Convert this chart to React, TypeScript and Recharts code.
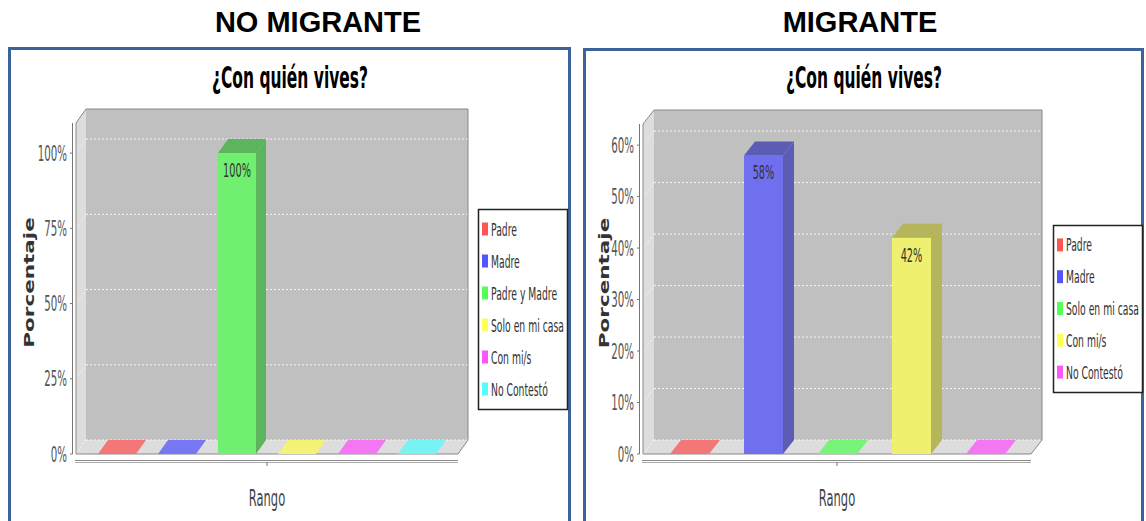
import React from "react";
import { BarChart, Bar, XAxis, YAxis, LabelList } from "recharts";

// Data
const axisCategory = "Rango";

const noMigranteSeries = ["Padre", "Madre", "Padre y Madre", "Solo en mi casa", "Con mi/s", "No Contestó"];
const noMigranteValues = [0, 0, 100, 0, 0, 0];
const noMigranteTicks = [0, 25, 50, 75, 100];

const migranteSeries = ["Padre", "Madre", "Solo en mi casa", "Con mi/s", "No Contestó"];
const migranteValues = [0, 58, 0, 42, 0];
const migranteTicks = [0, 10, 20, 30, 40, 50, 60];

// default jfreechart-like series paints
const legendColors = ["#ff5555", "#5555ff", "#55ff55", "#ffff55", "#ff55ff", "#55ffff"];
const frontColors = ["#ef7070", "#7070ef", "#70ef70", "#efef70", "#ef70ef", "#70efef"];
const sideColors = ["#b55c5c", "#5c5cb5", "#5cb55c", "#b5b55c", "#b55cb5", "#5cb5b5"];
const flatColors = ["#f37777", "#7777f3", "#77f377", "#f3f377", "#f377f3", "#77f3f3"];

const H = 521;
const SX = 0.5; // the source picture is squeezed horizontally
const FONT = "'DejaVu Sans', Verdana, sans-serif";

type PanelCfg = {
  title: string;
  series: string[];
  values: number[];
  ticks: number[];
  max: number;
  left: number;
  width: number;
  x0: number;
  x1: number;
  top: number;
  bottom: number;
  dx: number;
  dy: number;
  barSize: number;
  barGap: number;
  titleX: number;
  yLabelX: number;
  legend: { x: number; y: number; w: number; h: number };
};

const panels: PanelCfg[] = [
  {
    title: "¿Con quién vives?",
    series: noMigranteSeries,
    values: noMigranteValues,
    ticks: noMigranteTicks,
    max: 110,
    left: 0,
    width: 575,
    x0: 76,
    x1: 458,
    top: 123,
    bottom: 454,
    dx: 10,
    dy: 14,
    barSize: 38,
    barGap: 22,
    titleX: 290,
    yLabelX: 29,
    legend: { x: 478, y: 209, w: 89, h: 200 },
  },
  {
    title: "¿Con quién vives?",
    series: migranteSeries,
    values: migranteValues,
    ticks: migranteTicks,
    max: 64.1,
    left: 580,
    width: 566,
    x0: 63,
    x1: 451,
    top: 124,
    bottom: 454,
    dx: 11,
    dy: 14,
    barSize: 39,
    barGap: 35,
    titleX: 284,
    yLabelX: 23.5,
    legend: { x: 473, y: 225, w: 89, h: 167 },
  },
];

function Squeezed({ x, y, anchor, size, fill, weight, children }: any) {
  return (
    <g transform={`translate(${x},${y})`}>
      <text
        transform={`scale(${SX},1)`}
        textAnchor={anchor}
        fontSize={size}
        fill={fill}
        fontWeight={weight || "normal"}
        fontFamily={FONT}
      >
        {children}
      </text>
    </g>
  );
}

function Bar3D(props: any) {
  const { x, y, width, height, idx, dx, dy } = props;
  if (x == null || y == null) return null;
  const top = `${x},${y} ${x + dx},${y - dy} ${x + width + dx},${y - dy} ${x + width},${y}`;
  if (!height || height < 0.5) {
    return <polygon points={top} fill={flatColors[idx]} />;
  }
  const side = `${x + width},${y} ${x + width + dx},${y - dy} ${x + width + dx},${y + height - dy} ${x + width},${y + height}`;
  return (
    <g>
      <rect x={x} y={y} width={width} height={height} fill={frontColors[idx]} />
      <polygon points={side} fill={sideColors[idx]} />
      <polygon points={top} fill={sideColors[idx]} />
    </g>
  );
}

function ValueLabel(props: any) {
  const { x, y, width, value } = props;
  if (!value) return null;
  return (
    <Squeezed x={x + width / 2} y={y + 24} anchor="middle" size={19.5} fill="#333">
      {`${value}%`}
    </Squeezed>
  );
}

function YTick(props: any) {
  const { x, y, payload } = props;
  return (
    <g>
      <line x1={x - 6} x2={x - 3.5} y1={y} y2={y} stroke="#777" />
      <Squeezed x={x - 9} y={y + 7.5} anchor="end" size={20.5} fill="#555">
        {`${payload.value}%`}
      </Squeezed>
    </g>
  );
}

function XTick(props: any) {
  const { x, y } = props;
  return <line x1={x} x2={x} y1={y + 8} y2={y + 12} stroke="#777" />;
}

function XTitle(props: any) {
  const vb = props.viewBox || {};
  return (
    <Squeezed x={vb.x + vb.width / 2} y={vb.y + 52} anchor="middle" size={23} fill="#444">
      {axisCategory}
    </Squeezed>
  );
}

function YTitle(props: any) {
  const vb = props.viewBox || {};
  const cx = vb.x + props.lx;
  const cy = vb.y + vb.height / 2 - 6;
  return (
    <g transform={`translate(${cx},${cy}) scale(0.65,1) rotate(-90)`}>
      <text
        textAnchor="middle"
        dy="0.36em"
        fontSize={21.5}
        fontWeight="bold"
        fill="#333"
        fontFamily={FONT}
      >
        Porcentaje
      </text>
    </g>
  );
}

function Walls({ p }: { p: PanelCfg }) {
  const { x0, x1, top, bottom, dx, dy, ticks, max } = p;
  const yOf = (v: number) => bottom - (v / max) * (bottom - top);
  return (
    <g>
      <rect x={x0 + dx} y={top - dy} width={x1 - x0} height={bottom - top} fill="#c0c0c0" />
      <polygon
        points={`${x0},${top} ${x0 + dx},${top - dy} ${x0 + dx},${bottom - dy} ${x0},${bottom}`}
        fill="#dddddd"
      />
      <polygon
        points={`${x0},${bottom} ${x0 + dx},${bottom - dy} ${x1 + dx},${bottom - dy} ${x1},${bottom}`}
        fill="#dddddd"
      />
      {ticks.map((t) => (
        <g key={t}>
          <line
            x1={x0 + dx}
            x2={x1 + dx}
            y1={yOf(t) - dy}
            y2={yOf(t) - dy}
            stroke="#ffffff"
            strokeDasharray="2 2"
            strokeOpacity={0.85}
          />
          <line
            x1={x0}
            x2={x0 + dx}
            y1={yOf(t)}
            y2={yOf(t) - dy}
            stroke="#ffffff"
            strokeDasharray="2 2"
            strokeOpacity={0.6}
          />
        </g>
      ))}
      <polygon
        points={`${x0},${bottom} ${x0},${top} ${x0 + dx},${top - dy} ${x1 + dx},${top - dy} ${x1 + dx},${bottom - dy} ${x1},${bottom}`}
        fill="none"
        stroke="#888"
      />
      <line x1={x0 - 3.5} x2={x0 - 3.5} y1={top} y2={bottom} stroke="#777" />
      <line x1={x0 - 1} x2={x1} y1={bottom + 6.5} y2={bottom + 6.5} stroke="#888" />
      <line x1={x0 - 1} x2={x1} y1={bottom + 8.5} y2={bottom + 8.5} stroke="#aaa" />
    </g>
  );
}

function LegendBox({ p }: { p: PanelCfg }) {
  const { x, y, w, h } = p.legend;
  const rowH = (h - 8) / p.series.length;
  return (
    <g>
      <rect x={x + 0.5} y={y + 0.5} width={w} height={h} fill="#fff" stroke="#222" strokeWidth={1.5} />
      {p.series.map((s, i) => {
        const cy = y + 4 + rowH * (i + 0.5);
        return (
          <g key={s}>
            <rect x={x + 4} y={cy - 6.5} width={6} height={13} fill={legendColors[i]} />
            <Squeezed x={x + 13} y={cy + 6.5} anchor="start" size={18.5} fill="#333">
              {s}
            </Squeezed>
          </g>
        );
      })}
    </g>
  );
}

function Panel3D({ p }: { p: PanelCfg }) {
  const row: Record<string, string | number> = { name: axisCategory };
  p.series.forEach((_, i) => {
    row["s" + i] = p.values[i];
  });

  return (
    <div style={{ position: "absolute", left: p.left, top: 0, width: p.width, height: H }}>
      <svg width={p.width} height={H} style={{ position: "absolute", left: 0, top: 0 }}>
        <Walls p={p} />
        <g transform={`translate(${p.titleX},88)`}>
          <text
            transform={`scale(${SX},1)`}
            textAnchor="middle"
            fontSize={31}
            fontWeight="bold"
            fill="#000"
            fontFamily={FONT}
          >
            {p.title}
          </text>
        </g>
        <LegendBox p={p} />
      </svg>
      <div style={{ position: "absolute", left: 0, top: 0 }}>
        <BarChart
          width={p.width}
          height={H}
          data={[row]}
          margin={{ top: p.top, right: p.width - p.x1, bottom: 0, left: 0 }}
          barSize={p.barSize}
          barGap={p.barGap}
        >
          <XAxis
            dataKey="name"
            height={H - p.bottom}
            axisLine={false}
            tickLine={false}
            tickSize={0}
            tickMargin={0}
            tick={<XTick />}
            label={<XTitle />}
          />
          <YAxis
            width={p.x0}
            domain={[0, p.max]}
            ticks={p.ticks}
            interval={0}
            axisLine={false}
            tickLine={false}
            tickSize={0}
            tickMargin={0}
            tick={<YTick />}
            label={<YTitle lx={p.yLabelX} />}
          />
          {p.series.map((s, i) => (
            <Bar
              key={s}
              dataKey={"s" + i}
              name={s}
              isAnimationActive={false}
              shape={(bp: any) => <Bar3D {...bp} idx={i} dx={p.dx} dy={p.dy} />}
            >
              <LabelList dataKey={"s" + i} content={<ValueLabel />} />
            </Bar>
          ))}
        </BarChart>
      </div>
    </div>
  );
}

export default function App() {
  return (
    <div
      style={{
        position: "absolute",
        left: 0,
        top: 0,
        width: 1146,
        height: H,
        overflow: "hidden",
        background: "#fff",
      }}
    >
      <svg width={1146} height={H} style={{ position: "absolute", left: 0, top: 0 }}>
        <rect x={9.5} y={48.5} width={560} height={600} fill="none" stroke="#3b6399" strokeWidth={3} />
        <rect x={584.5} y={49.5} width={558} height={600} fill="none" stroke="#3b6399" strokeWidth={3} />
        <text
          x={318}
          y={32}
          textAnchor="middle"
          fontSize={29}
          fontWeight="bold"
          fill="#000"
          fontFamily="'Liberation Sans', Arial, sans-serif"
        >
          NO MIGRANTE
        </text>
        <text
          x={860}
          y={32}
          textAnchor="middle"
          fontSize={29}
          fontWeight="bold"
          fill="#000"
          fontFamily="'Liberation Sans', Arial, sans-serif"
        >
          MIGRANTE
        </text>
      </svg>
      {panels.map((p, i) => (
        <Panel3D key={i} p={p} />
      ))}
    </div>
  );
}
